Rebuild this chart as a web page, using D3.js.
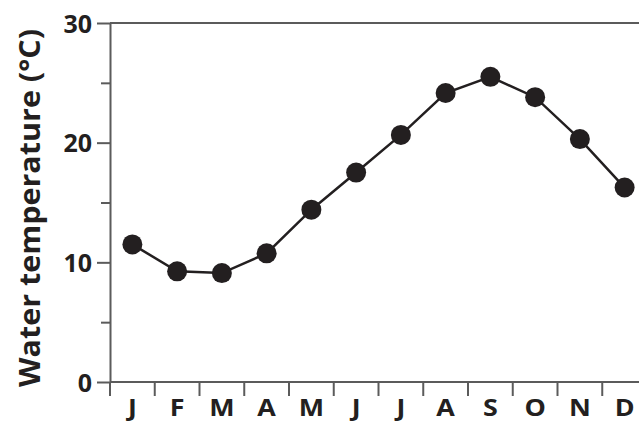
<!DOCTYPE html>
<html>
<head>
<meta charset="utf-8">
<script src="https://cdn.jsdelivr.net/npm/d3@7"></script>
<style>
  html, body { margin: 0; padding: 0; background: #fff; }
  svg { display: block; }
  text { font-family: "Open Sans", "DejaVu Sans", sans-serif; font-weight: 700; fill: #231f20; }
</style>
</head>
<body>
<svg id="chart" width="639" height="422"></svg>
<script>
// Monthly mean water temperature (°C)
const months = ["J", "F", "M", "A", "M", "J", "J", "A", "S", "O", "N", "D"];
const temperature = [11.5, 9.25, 9.1, 10.75, 14.4, 17.5, 20.65, 24.15, 25.5, 23.8, 20.3, 16.25];
const majorTicks = [0, 10, 20, 30];
const minorTicks = [5, 15, 25];
const yLabel = "Water temperature (°C)";

const W = 639, H = 422;
const plotLeft = 110, plotTop = 23, plotBottom = 382;
const step = 44.75;

const svg = d3.select("#chart");
const axisColor = "#5b5b5b";

const x = d3.scaleBand()
  .domain(d3.range(months.length))
  .range([plotLeft, plotLeft + step * months.length])
  .paddingInner(0).paddingOuter(0);

const y = d3.scaleLinear().domain([0, 30]).range([plotBottom, plotTop]);

// top frame line
svg.append("line")
  .attr("x1", plotLeft).attr("x2", W)
  .attr("y1", y(30)).attr("y2", y(30))
  .attr("stroke", axisColor).attr("stroke-width", 2);

// x axis baseline
svg.append("line")
  .attr("x1", plotLeft).attr("x2", W)
  .attr("y1", y(0)).attr("y2", y(0))
  .attr("stroke", axisColor).attr("stroke-width", 2);

// month boundary ticks
svg.append("g").selectAll("line")
  .data(d3.range(months.length))
  .join("line")
  .attr("x1", d => x(d)).attr("x2", d => x(d))
  .attr("y1", y(0)).attr("y2", y(0) + 14)
  .attr("stroke", axisColor).attr("stroke-width", 2);

// month labels
const xAxis = svg.append("g")
  .attr("transform", `translate(0,${y(0)})`)
  .call(d3.axisBottom(x).tickSize(0).tickSizeOuter(0).tickFormat(i => months[i]));
xAxis.select(".domain").remove();
xAxis.selectAll("text")
  .attr("y", 0).attr("dy", 0)
  .attr("transform", "translate(0,34) scale(1.12,1)")
  .style("font-size", "24px")
  .style("font-family", "'Open Sans', sans-serif")
  .style("font-weight", 700)
  .attr("fill", "#231f20");

// y axis with major labelled ticks
const yAxis = svg.append("g")
  .attr("transform", `translate(${plotLeft},0)`)
  .call(d3.axisLeft(y).tickValues(majorTicks).tickSize(13).tickSizeOuter(0).tickPadding(5));
yAxis.select(".domain").attr("stroke", axisColor).attr("stroke-width", 2);
yAxis.selectAll(".tick line").attr("stroke", axisColor).attr("stroke-width", 2);
yAxis.selectAll("text")
  .attr("dy", "0.36em")
  .style("font-size", "25px")
  .style("font-family", "'Open Sans', sans-serif")
  .style("font-weight", 700)
  .attr("fill", "#231f20");

// minor ticks
const yMinor = svg.append("g")
  .attr("transform", `translate(${plotLeft},0)`)
  .call(d3.axisLeft(y).tickValues(minorTicks).tickSize(9).tickFormat(""));
yMinor.select(".domain").remove();
yMinor.selectAll(".tick line").attr("stroke", axisColor).attr("stroke-width", 2);

// y axis title
svg.append("text")
  .attr("transform", `translate(40,${(28 + 388) / 2}) rotate(-90)`)
  .attr("text-anchor", "middle")
  .attr("textLength", 358)
  .attr("lengthAdjust", "spacingAndGlyphs")
  .style("font-size", "29px")
  .text(yLabel);

// data line
const cx = i => x(i) + x.bandwidth() / 2;
svg.append("path")
  .datum(temperature)
  .attr("fill", "none")
  .attr("stroke", "#231f20")
  .attr("stroke-width", 2.5)
  .attr("d", d3.line().x((d, i) => cx(i)).y(d => y(d)));

// markers
svg.append("g").selectAll("circle")
  .data(temperature)
  .join("circle")
  .attr("cx", (d, i) => cx(i))
  .attr("cy", d => y(d))
  .attr("r", 10)
  .attr("fill", "#231f20");
</script>
</body>
</html>
